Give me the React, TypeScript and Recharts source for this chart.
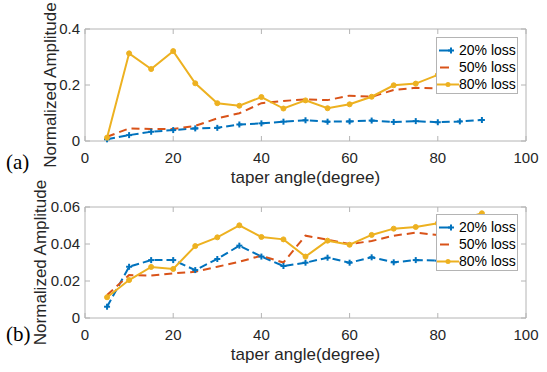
import React from 'react';
import { LineChart, Line, XAxis, YAxis, Legend, Label } from 'recharts';

// ---- data ----
const angles = [5, 10, 15, 20, 25, 30, 35, 40, 45, 50, 55, 60, 65, 70, 75, 80, 85, 90];

const topLoss20 = [0.006, 0.021, 0.033, 0.039, 0.045, 0.047, 0.059, 0.063, 0.069, 0.074, 0.069, 0.070, 0.073, 0.068, 0.071, 0.067, 0.070, 0.075];
const topLoss50 = [0.015, 0.045, 0.043, 0.043, 0.054, 0.081, 0.099, 0.135, 0.143, 0.149, 0.146, 0.162, 0.158, 0.182, 0.190, 0.188, 0.182, 0.195];
const topLoss80 = [0.012, 0.313, 0.257, 0.321, 0.206, 0.135, 0.126, 0.157, 0.116, 0.145, 0.117, 0.131, 0.158, 0.199, 0.205, 0.236, 0.260, 0.280];

const bottomLoss20 = [0.0061, 0.0277, 0.0313, 0.0313, 0.0259, 0.0319, 0.0391, 0.0332, 0.0281, 0.0299, 0.0326, 0.0299, 0.0328, 0.0301, 0.0313, 0.0310, 0.0310, 0.0320];
const bottomLoss50 = [0.0124, 0.0232, 0.0229, 0.0241, 0.0250, 0.0277, 0.0304, 0.0337, 0.0300, 0.0445, 0.0423, 0.0400, 0.0416, 0.0445, 0.0461, 0.0449, 0.0460, 0.0470];
const bottomLoss80 = [0.0112, 0.0205, 0.0276, 0.0265, 0.0389, 0.0436, 0.0501, 0.0438, 0.0425, 0.0332, 0.0418, 0.0396, 0.0449, 0.0483, 0.0492, 0.0512, 0.0530, 0.0566];

const xTicks = [0, 20, 40, 60, 80, 100];
const topYTicks = [0, 0.2, 0.4];
const bottomYTicks = [0, 0.02, 0.04, 0.06];
const seriesNames = ['20% loss', '50% loss', '80% loss'];
const xLabel = 'taper angle(degree)';
const yLabel = 'Normalized Amplitude';

// ---- layout / styles ----
const CHART_W = 547;
const MARGIN_RIGHT = 21;
const Y_AXIS_W = 85;
const PLOT_W = CHART_W - MARGIN_RIGHT - Y_AXIS_W;
const TICK_LEN = 5;

const BLUE = '#0072BD';
const RED = '#D95319';
const YELLOW = '#EDB120';
const AXIS = '#b4b4b4';
const TEXT = '#262626';
const SANS = '"Liberation Sans", Arial, Helvetica, sans-serif';
const SERIF = '"Liberation Serif", "Times New Roman", serif';

function buildRows(a: number[], b: number[], c: number[]) {
  return angles.map((angle, i) => ({ angle, l20: a[i], l50: b[i], l80: c[i] }));
}

const topRows = buildRows(topLoss20, topLoss50, topLoss80);
const bottomRows = buildRows(bottomLoss20, bottomLoss50, bottomLoss80);

const PlusDot = (p: any) => {
  const { cx, cy } = p;
  if (cx == null || cy == null) return <g key={p.key} />;
  return (
    <g key={p.key}>
      <line x1={cx - 3} x2={cx + 3} y1={cy} y2={cy} stroke={BLUE} strokeWidth={2} />
      <line x1={cx} x2={cx} y1={cy - 3} y2={cy + 3} stroke={BLUE} strokeWidth={2} />
    </g>
  );
};

// bottom axis tick: label + inward tick marks on the bottom and top edges
const BottomTick = (p: any) => {
  const top = p.y - p.plotH;
  return (
    <g>
      <path d={`M${p.x},${p.y}V${p.y - TICK_LEN}`} stroke={AXIS} strokeWidth={1} fill="none" />
      <path d={`M${p.x},${top}V${top + TICK_LEN}`} stroke={AXIS} strokeWidth={1} fill="none" />
      <text x={p.x} y={p.y + 22} textAnchor="middle" fill={TEXT} fontSize={15} fontFamily={SANS}>
        {String(p.payload.value)}
      </text>
    </g>
  );
};

// left axis tick: label + inward tick marks on the left and right edges
const LeftTick = (p: any) => {
  const right = p.x + PLOT_W;
  return (
    <g>
      <path d={`M${p.x},${p.y}H${p.x + TICK_LEN}`} stroke={AXIS} strokeWidth={1} fill="none" />
      <path d={`M${right},${p.y}H${right - TICK_LEN}`} stroke={AXIS} strokeWidth={1} fill="none" />
      <text x={p.x - 5} y={p.y + 5} textAnchor="end" fill={TEXT} fontSize={15} fontFamily={SANS}>
        {String(p.payload.value)}
      </text>
    </g>
  );
};

const LegendIcon = ({ k }: { k: string }) => {
  if (k === 'l20') {
    return (
      <svg width={22} height={17}>
        <line x1={2} x2={14} y1={8.5} y2={8.5} stroke={BLUE} strokeWidth={2} />
        <line x1={11} x2={17} y1={8.5} y2={8.5} stroke={BLUE} strokeWidth={2} />
        <line x1={14} x2={14} y1={5.5} y2={11.5} stroke={BLUE} strokeWidth={2} />
      </svg>
    );
  }
  if (k === 'l50') {
    return (
      <svg width={22} height={17}>
        <line x1={3} x2={12} y1={8.5} y2={8.5} stroke={RED} strokeWidth={2} />
      </svg>
    );
  }
  return (
    <svg width={22} height={17}>
      <line x1={0} x2={22} y1={8.5} y2={8.5} stroke={YELLOW} strokeWidth={2} />
      <circle cx={11} cy={8.5} r={2.5} fill={YELLOW} />
    </svg>
  );
};

const LegendContent = (props: any) => {
  const payload = (props.payload || []).filter((e: any) => seriesNames.includes(e.value));
  return (
    <div
      style={{
        width: 82,
        height: 57,
        boxSizing: 'border-box',
        border: `1px solid ${AXIS}`,
        background: '#fff',
        paddingTop: 4,
      }}
    >
      {payload.map((e: any) => (
        <div key={e.dataKey} style={{ display: 'flex', alignItems: 'center', height: 17 }}>
          <LegendIcon k={e.dataKey} />
          <span style={{ fontFamily: SANS, fontSize: 14, color: '#000', lineHeight: '17px' }}>{e.value}</span>
        </div>
      ))}
    </div>
  );
};

type PanelProps = {
  rows: any[];
  yTicks: number[];
  yMax: number;
  height: number;
  marginTop: number;
  xAxisHeight: number;
  legendTop: number;
  yLabelX: number;
  tag: string;
  tagY: number;
};

const Panel = ({ rows, yTicks, yMax, height, marginTop, xAxisHeight, legendTop, yLabelX, tag, tagY }: PanelProps) => {
  const plotH = height - marginTop - xAxisHeight;
  return (
    <LineChart width={CHART_W} height={height} data={rows} margin={{ top: marginTop, right: MARGIN_RIGHT, bottom: 0, left: 0 }}>
      <XAxis
        dataKey="angle"
        type="number"
        domain={[0, 100]}
        ticks={xTicks}
        interval={0}
        height={xAxisHeight}
        tickSize={0}
        tickMargin={0}
        tickLine={false}
        axisLine={{ stroke: AXIS }}
        tick={(p: any) => <BottomTick {...p} plotH={plotH} />}
      >
        <Label
          content={(lp: any) => {
            const vb = lp.viewBox || {};
            return (
              <text x={vb.x + vb.width / 2} y={vb.y + 42} textAnchor="middle" fill={TEXT} fontSize={17} fontFamily={SANS}>
                {xLabel}
              </text>
            );
          }}
        />
      </XAxis>
      <YAxis
        type="number"
        domain={[0, yMax]}
        ticks={yTicks}
        interval={0}
        width={Y_AXIS_W}
        tickSize={0}
        tickMargin={0}
        tickLine={false}
        axisLine={{ stroke: AXIS }}
        tick={(p: any) => <LeftTick {...p} />}
      >
        <Label
          content={(lp: any) => {
            const vb = lp.viewBox || {};
            const cy = vb.y + vb.height / 2;
            const left = vb.x + vb.width;
            return (
              <g>
                {/* plot-box frame */}
                <path
                  d={`M${left},${vb.y}H${left + PLOT_W}V${vb.y + vb.height}`}
                  stroke={AXIS}
                  strokeWidth={1}
                  fill="none"
                />
                <text
                  x={yLabelX}
                  y={cy}
                  transform={`rotate(-90, ${yLabelX}, ${cy})`}
                  textAnchor="middle"
                  fill={TEXT}
                  fontSize={17}
                  fontFamily={SANS}
                >
                  {yLabel}
                </text>
                <text x={6} y={tagY} fill="#000" fontSize={21} fontFamily={SERIF}>
                  {tag}
                </text>
              </g>
            );
          }}
        />
      </YAxis>
      <Line
        dataKey="l20"
        name={seriesNames[0]}
        stroke={BLUE}
        strokeWidth={2}
        strokeDasharray="8 4"
        dot={(p: any) => <PlusDot key={`d20-${p.index}`} {...p} />}
        activeDot={false}
        isAnimationActive={false}
      />
      <Line
        dataKey="l50"
        name={seriesNames[1]}
        stroke={RED}
        strokeWidth={2}
        strokeDasharray="8 5"
        dot={false}
        activeDot={false}
        isAnimationActive={false}
      />
      <Line
        dataKey="l80"
        name={seriesNames[2]}
        stroke={YELLOW}
        strokeWidth={2}
        dot={{ r: 2.5, fill: YELLOW, stroke: YELLOW, strokeWidth: 1 }}
        activeDot={false}
        isAnimationActive={false}
      />
      <Legend
        layout="vertical"
        align="center"
        verticalAlign="middle"
        wrapperStyle={{ position: 'absolute', left: 436, top: legendTop, width: 82, height: 57 }}
        content={LegendContent}
      />
    </LineChart>
  );
};

export default function App() {
  return (
    <div style={{ position: 'absolute', left: 0, top: 0, width: 547, height: 372, background: '#fff', fontFamily: SANS }}>
      <style>{'.recharts-surface{overflow:visible}'}</style>
      <div style={{ position: 'absolute', left: 0, top: 0 }}>
        <Panel
          rows={topRows}
          yTicks={topYTicks}
          yMax={0.4}
          height={190}
          marginTop={29}
          xAxisHeight={49}
          legendTop={37}
          yLabelX={56}
          tag="(a)"
          tagY={169}
        />
      </div>
      <div style={{ position: 'absolute', left: 0, top: 190 }}>
        <Panel
          rows={bottomRows}
          yTicks={bottomYTicks}
          yMax={0.06}
          height={182}
          marginTop={17}
          xAxisHeight={54}
          legendTop={24}
          yLabelX={46}
          tag="(b)"
          tagY={151}
        />
      </div>
    </div>
  );
}
